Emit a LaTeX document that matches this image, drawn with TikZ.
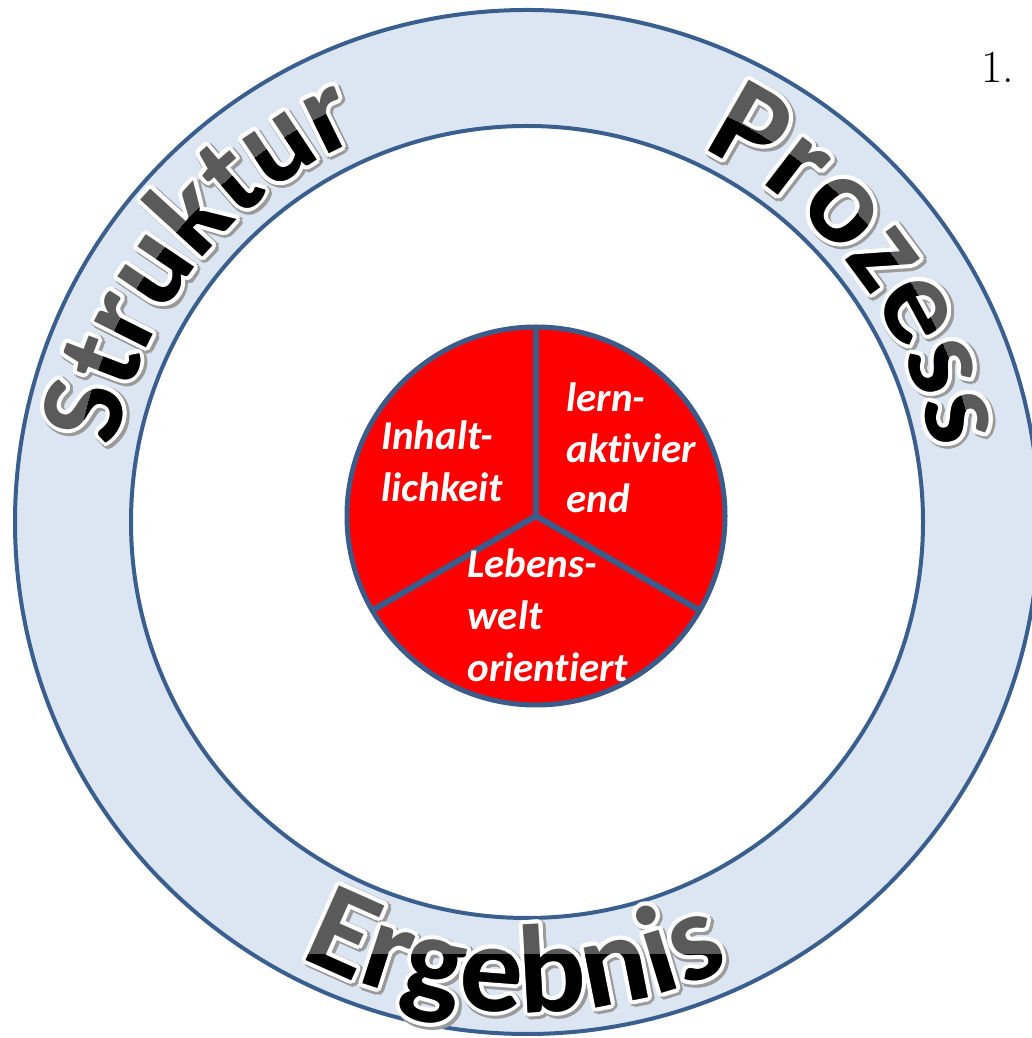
\documentclass[tikz,border=0pt]{standalone}
\usepackage{fontspec}
\newfontfamily\calfont[Ligatures=NoCommon]{Carlito}
\usetikzlibrary{decorations.text}
\definecolor{ringfill}{HTML}{DCE6F2}
\definecolor{ringline}{HTML}{3A5F8E}
\definecolor{shadowc}{HTML}{9A9A9A}
\definecolor{lettergray}{HTML}{5A5A5A}
\definecolor{pieline}{HTML}{3B5B8A}
\newcommand\fStruk{\calfont\bfseries\fontsize{60}{60}\selectfont}
\newcommand\fProz{\calfont\bfseries\fontsize{63}{63}\selectfont}
\newcommand\fErg{\calfont\bfseries\fontsize{63}{63}\selectfont}
% #1 radius, #2 start angle, #3 end angle, #4 text, #5 clip path for dark part, #6 font
\newcommand\wordart[6]{%
  \foreach \a in {0,30,...,330}{%
    \path[shift={(2,-2)},shift={(\a:5)},decorate,
      decoration={text along path,text align=center,text={|#6\color{shadowc}|#4}}]
      (527,516) ++(#2:#1) arc[start angle=#2,end angle=#3,radius=#1];}%
  \foreach \a in {0,22.5,...,337.5}{%
    \path[shift={(\a:4)},decorate,
      decoration={text along path,text align=center,text={|#6\color{white}|#4}}]
      (527,516) ++(#2:#1) arc[start angle=#2,end angle=#3,radius=#1];}%
  \path[decorate,
    decoration={text along path,text align=center,text={|#6\color{lettergray}|#4}}]
    (527,516) ++(#2:#1) arc[start angle=#2,end angle=#3,radius=#1];
  \begin{scope}
    \clip #5;
    \path[decorate,
      decoration={text along path,text align=center,text={|#6\color{black}|#4}}]
      (527,516) ++(#2:#1) arc[start angle=#2,end angle=#3,radius=#1];
  \end{scope}%
}
\begin{document}
\begin{tikzpicture}[x=0.5pt,y=0.5pt,
  pietext/.style={text=white,inner sep=0pt,anchor=base west,
    font=\calfont\bfseries\itshape\fontsize{20.5}{24}\selectfont},
  ringcircle/.style={draw=ringline,line width=2pt},
  divider/.style={draw=pieline,line width=3pt}]
\useasboundingbox (0,0) rectangle (1032,1038);
\coordinate (C) at (527,516);
\coordinate (P) at (536,522);
% ring
\path[fill=ringfill,even odd rule] (C) circle[radius=512] (C) circle[radius=396];
\draw[ringcircle] (C) circle[radius=512];
\draw[ringcircle] (C) circle[radius=396];
% curved words
\wordart{418}{211.5}{71.5}{Struktur}{(527,516) circle[radius=455]}{\fStruk}
\wordart{412}{107.5}{-32.5}{Prozess}{(527,516) circle[radius=452]}{\fProz}
\wordart{490}{198.5}{338.5}{Ergebnis}{(0,-20) rectangle (1032,83)}{\fErg}
% pie
\fill[red] (P) circle[radius=189];
\draw[divider] (P) -- ++(90:189);
\draw[divider] (P) -- ++(210:189);
\draw[divider] (P) -- ++(330:189);
\draw[draw=pieline,line width=2.5pt] (P) circle[radius=189];
% pie labels
\node[pietext] (inh1) at (381,588) {Inhalt-};
\node[pietext] (inh2) at (381,536) {lichkeit};
\node[pietext] (lern1) at (566,626) {lern-};
\node[pietext] (lern2) at (566,575) {aktivier};
\node[pietext] (lern3) at (566,525) {end};
\node[pietext] (leb1) at (467,460) {Lebens-};
\node[pietext] (leb2) at (467,408) {welt};
\node[pietext] (leb3) at (467,356) {orientiert};
% number
\node[anchor=base west,inner sep=0pt,font=\fontsize{23}{25}\selectfont] (num) at (981,955) {1.};
\end{tikzpicture}
\end{document}
